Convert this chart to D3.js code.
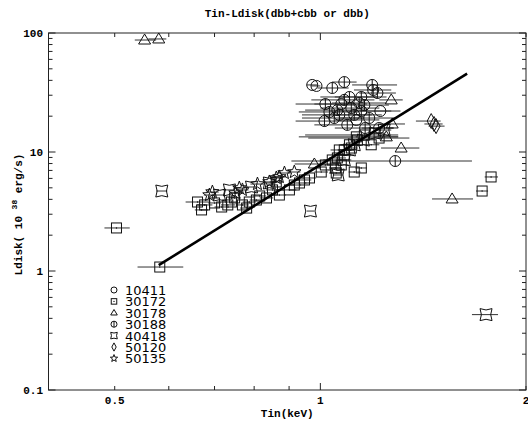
<!DOCTYPE html>
<html><head><meta charset="utf-8">
<script src="https://cdn.jsdelivr.net/npm/d3@7"></script>
<style>body{margin:0;background:#fff}svg{display:block}</style>
</head><body>
<script>
// ---- data: [Tin (keV), Ldisk (1e38 erg/s), Tin low, Tin high]
const title = "Tin-Ldisk(dbb+cbb or dbb)";
const xLabel = "Tin(keV)";
const xTickVals = [0.5, 1, 2];
const xTickLabels = ["0.5", "1", "2"];
const yTickVals = [0.1, 1, 10, 100];
const yTickLabels = ["0.1", "1", "10", "100"];
const seriesNames = ["10411", "30172", "30178", "30188", "40418", "50120", "50135"];

const s10411 = [
  [0.973, 36.6, 0.955, 0.99], [0.987, 35.9, 0.97, 1.0], [1.224, 22.1, 1.14, 1.31],
  [1.129, 18.6, 1.05, 1.22], [1.219, 15.9, 1.15, 1.28], [1.073, 25.3, 0.98, 1.17]
];
const s30172 = [
  [0.503, 2.30, 0.483, 0.526], [0.582, 1.08, 0.54, 0.63], [1.778, 6.17, 1.74, 1.82],
  [1.725, 4.70, 1.69, 1.76], [0.661, 3.80, 0.635, 0.69], [0.670, 3.26, 0.655, 0.685],
  [0.677, 3.59, 0.66, 0.695], [0.700, 3.73, 0.685, 0.715], [0.717, 3.45, 0.70, 0.735],
  [0.732, 3.59, 0.715, 0.75], [0.741, 3.80, 0.725, 0.757], [0.749, 4.11, 0.733, 0.765],
  [0.769, 3.59, 0.752, 0.786], [0.780, 3.38, 0.763, 0.797], [0.787, 3.80, 0.77, 0.805],
  [0.806, 3.95, 0.788, 0.824], [0.815, 4.27, 0.797, 0.833], [0.834, 4.11, 0.815, 0.853],
  [0.851, 4.80, 0.832, 0.87], [0.862, 5.60, 0.843, 0.881], [0.871, 4.35, 0.852, 0.89],
  [0.901, 4.80, 0.88, 0.922], [0.916, 5.28, 0.895, 0.937], [0.932, 5.49, 0.91, 0.954],
  [0.948, 5.82, 0.926, 0.97], [0.964, 6.05, 0.942, 0.986], [1.003, 6.79, 0.98, 1.026],
  [1.055, 6.66, 1.03, 1.08], [1.017, 7.78, 0.99, 1.045], [1.041, 8.57, 1.01, 1.07],
  [1.059, 8.91, 1.03, 1.09], [1.066, 10.4, 1.035, 1.10], [1.084, 9.44, 1.05, 1.12],
  [1.103, 11.5, 1.07, 1.14], [1.121, 6.79, 1.10, 1.145], [1.148, 7.34, 1.125, 1.17],
  [1.160, 13.9, 0.95, 1.30], [1.187, 11.5, 1.15, 1.22], [1.219, 13.1, 0.96, 1.35],
  [1.129, 13.4, 0.93, 1.30], [1.084, 10.4, 1.06, 1.11], [1.110, 10.8, 1.085, 1.135],
  [1.133, 12.6, 1.11, 1.16], [1.073, 7.78, 1.05, 1.10], [1.052, 7.34, 1.03, 1.075]
];
const s30178 = [
  [0.553, 87.3, 0.535, 0.575], [0.580, 89.1, 0.56, 0.595], [1.270, 27.4, 1.22, 1.32],
  [1.313, 10.8, 1.227, 1.396], [1.559, 4.03, 1.457, 1.673], [0.980, 7.93, 0.917, 1.062],
  [1.274, 17.2, 1.22, 1.33], [1.249, 13.4, 1.20, 1.30]
];
const s30188 = [
  [1.041, 34.5, 0.99, 1.10], [1.084, 38.7, 1.04, 1.13], [1.191, 36.6, 1.113, 1.295],
  [1.195, 33.2, 1.12, 1.27], [1.212, 31.3, 1.14, 1.29], [1.103, 29.0, 1.00, 1.21],
  [1.084, 27.4, 0.97, 1.20], [1.140, 25.8, 1.04, 1.25], [1.160, 24.8, 1.06, 1.26],
  [1.031, 21.7, 0.93, 1.14], [1.059, 22.5, 0.95, 1.17], [1.110, 23.4, 1.00, 1.22],
  [1.066, 20.5, 0.94, 1.19], [1.179, 19.3, 1.07, 1.29], [1.095, 16.9, 0.98, 1.22],
  [1.163, 15.9, 1.05, 1.28], [1.287, 8.40, 0.907, 1.667], [1.017, 25.3, 0.92, 1.12],
  [1.148, 22.1, 1.03, 1.27], [1.048, 19.3, 0.94, 1.16], [1.121, 20.5, 1.01, 1.23],
  [1.148, 29.0, 1.05, 1.25], [1.014, 18.2, 0.92, 1.11]
];
const s40418 = [
  [0.586, 4.70, 0.575, 0.597], [0.967, 3.19, 0.955, 0.98], [1.748, 0.43, 1.667, 1.82],
  [0.712, 4.35, 0.70, 0.725], [0.793, 5.08, 0.78, 0.806], [1.062, 6.41, 1.045, 1.08],
  [1.203, 14.4, 1.18, 1.23], [1.103, 10.4, 1.08, 1.125], [1.156, 12.6, 1.13, 1.18],
  [0.736, 4.80, 0.72, 0.75], [0.842, 5.49, 0.825, 0.86], [1.084, 8.57, 1.06, 1.11],
  [1.121, 11.5, 1.10, 1.145], [1.240, 15.3, 1.21, 1.27]
];
const s50120 = [
  [1.453, 18.2, 1.38, 1.50], [1.467, 17.2, 1.42, 1.51], [1.477, 16.5, 1.44, 1.52]
];
const s50135 = [
  [0.688, 4.35, 0.675, 0.70], [0.695, 4.61, 0.68, 0.71], [0.761, 4.98, 0.745, 0.777],
  [0.769, 4.80, 0.753, 0.785], [0.809, 5.38, 0.79, 0.828], [0.842, 5.60, 0.825, 0.86],
  [0.871, 6.17, 0.85, 0.89], [0.886, 6.66, 0.865, 0.905], [0.916, 6.79, 0.895, 0.935],
  [0.751, 4.52, 0.735, 0.767], [0.862, 6.05, 0.845, 0.88]
];
const fitX = [0.58, 1.64];
const fitY = [1.12, 45.5];

// ---- drawing
const W = 528, H = 425;
const L = 48.5, R = 526, T = 33, B = 390;
const svg = d3.select("body").append("svg").attr("width", W).attr("height", H);
const x = d3.scaleLog().domain([0.4, 2]).range([L, R]);
const y = d3.scaleLog().domain([0.1, 100]).range([B, T]);
const font = "Liberation Mono";

// frame
svg.append("rect").attr("x", L).attr("y", T).attr("width", R - L).attr("height", B - T)
  .attr("fill", "none").attr("stroke", "#222").attr("stroke-width", 1);

// ticks
const xMinor = [0.4, 0.5, 0.6, 0.7, 0.8, 0.9, 2];
const xMajor = [1];
const yMajor = [0.1, 1, 10, 100];
const yMinor = [];
[0.1, 1, 10].forEach(d => { for (let k = 2; k <= 9; k++) yMinor.push(d * k); });
const tk = svg.append("g").attr("stroke", "#222").attr("stroke-width", 1);
function xt(v, len) {
  tk.append("line").attr("x1", x(v)).attr("x2", x(v)).attr("y1", B).attr("y2", B - len);
  tk.append("line").attr("x1", x(v)).attr("x2", x(v)).attr("y1", T).attr("y2", T + len);
}
function yt(v, len) {
  tk.append("line").attr("y1", y(v)).attr("y2", y(v)).attr("x1", L).attr("x2", L + len);
  tk.append("line").attr("y1", y(v)).attr("y2", y(v)).attr("x1", R).attr("x2", R - len);
}
xMinor.forEach(v => xt(v, 4)); xMajor.forEach(v => xt(v, 7));
yMinor.forEach(v => yt(v, 4)); yMajor.forEach(v => yt(v, 7));

// tick labels
const lab = svg.append("g").attr("font-family", font).attr("font-weight", "bold")
  .attr("font-size", 11).attr("fill", "#000");
xTickVals.forEach((v, i) => lab.append("text").attr("x", x(v)).attr("y", 404)
  .attr("text-anchor", "middle").text(xTickLabels[i]));
yTickVals.forEach((v, i) => lab.append("text").attr("x", 43).attr("y", y(v) + 4)
  .attr("text-anchor", "end").text(yTickLabels[i]));

// title & axis labels
svg.append("text").attr("x", (L + R) / 2).attr("y", 17).attr("text-anchor", "middle")
  .attr("font-family", font).attr("font-weight", "bold").attr("font-size", 11).text(title);
svg.append("text").attr("x", (L + R) / 2).attr("y", 417).attr("text-anchor", "middle")
  .attr("font-family", font).attr("font-weight", "bold").attr("font-size", 11).text(xLabel);
const yl = svg.append("text").attr("transform", `translate(22,${(T + B) / 2 + 3}) rotate(-90)`)
  .attr("text-anchor", "middle").attr("font-family", font).attr("font-weight", "bold")
  .attr("font-size", 11);
yl.append("tspan").text("Ldisk( 10 ");
yl.append("tspan").attr("dy", -5).attr("font-size", 8).text("38");
yl.append("tspan").attr("dy", 5).text("  erg/s)");

// symbol paths
function starPath(r) {
  let p = "";
  for (let i = 0; i < 10; i++) {
    const a = -Math.PI / 2 + i * Math.PI / 5, rr = i % 2 ? r * 0.42 : r;
    p += (i ? "L" : "M") + (rr * Math.cos(a)).toFixed(2) + "," + (rr * Math.sin(a)).toFixed(2);
  }
  return p + "Z";
}
function cushion(r) {
  const c = r * 0.55;
  return `M${-r},${-r}Q0,${-c} ${r},${-r}Q${c},0 ${r},${r}Q0,${c} ${-r},${r}Q${-c},0 ${-r},${-r}Z`;
}
function drawSym(g, type, s) {
  let el;
  if (type === "circle") el = g.append("circle").attr("r", s * 0.55);
  else if (type === "square") {
    el = g.append("rect").attr("x", -s / 2).attr("y", -s / 2).attr("width", s).attr("height", s);
    g.append("circle").attr("r", 0.7).attr("fill", "#111");
  }
  else if (type === "triangle") el = g.append("path").attr("d", `M0,${-s * 0.6}L${s * 0.6},${s * 0.4}L${-s * 0.6},${s * 0.4}Z`);
  else if (type === "oplus") {
    el = g.append("circle").attr("r", s * 0.55);
    g.append("line").attr("x1", 0).attr("x2", 0).attr("y1", -s * 0.55).attr("y2", s * 0.55)
      .attr("stroke", "#111");
  }
  else if (type === "cushion") el = g.append("path").attr("d", cushion(s * 0.6));
  else if (type === "diamond") el = g.append("path").attr("d", `M0,${-s * 0.75}L${s * 0.4},0L0,${s * 0.75}L${-s * 0.4},0Z`);
  else if (type === "star") el = g.append("path").attr("d", starPath(s * 0.7));
  el.attr("fill", "none").attr("stroke", "#111").attr("stroke-width", 1);
}

const series = [
  { name: seriesNames[0], data: s10411, type: "circle" },
  { name: seriesNames[1], data: s30172, type: "square" },
  { name: seriesNames[2], data: s30178, type: "triangle" },
  { name: seriesNames[3], data: s30188, type: "oplus" },
  { name: seriesNames[4], data: s40418, type: "cushion" },
  { name: seriesNames[5], data: s50120, type: "diamond" },
  { name: seriesNames[6], data: s50135, type: "star" }
];

const plot = svg.append("g");
// error bars first
series.forEach(sr => {
  plot.append("g").selectAll("line").data(sr.data).join("line")
    .attr("x1", d => x(d[2])).attr("x2", d => x(d[3]))
    .attr("y1", d => y(d[1])).attr("y2", d => y(d[1]))
    .attr("stroke", "#333").attr("stroke-width", 1);
});
series.forEach(sr => {
  sr.data.forEach(d => {
    const g = plot.append("g").attr("transform", `translate(${x(d[0])},${y(d[1])})`);
    drawSym(g, sr.type, 10);
  });
});

// fit line
svg.append("line").attr("x1", x(fitX[0])).attr("y1", y(fitY[0]))
  .attr("x2", x(fitX[1])).attr("y2", y(fitY[1]))
  .attr("stroke", "#000").attr("stroke-width", 2.6);

// legend
const lg = svg.append("g");
series.forEach((sr, i) => {
  const yy = 290 + i * 11.4;
  const g = lg.append("g").attr("transform", `translate(114,${yy})`);
  drawSym(g, sr.type, 5.5);
  lg.append("text").attr("x", 125).attr("y", yy + 5).attr("font-family", "DejaVu Sans")
    .attr("font-size", 13).text(sr.name);
});
</script>
</body></html>
